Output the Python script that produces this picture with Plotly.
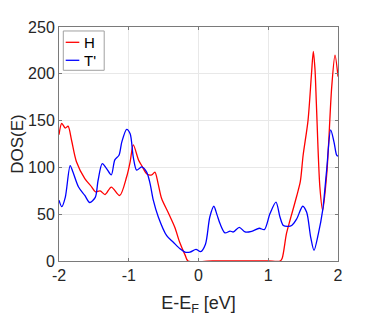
import plotly.graph_objects as go

# ---- data ----
h_x = [-2.00, -1.96, -1.91, -1.87, -1.82, -1.75, -1.63, -1.53, -1.48, -1.41, -1.34, -1.25,
       -1.13, -1.03, -0.98, -0.935, -0.86, -0.815, -0.74, -0.67, -0.625, -0.58, -0.53, -0.43,
       -0.34, -0.27, -0.19, -0.15, 0.2, 0.6, 1.0, 1.17, 1.20, 1.26, 1.31, 1.34, 1.41, 1.46,
       1.50, 1.57, 1.62, 1.646, 1.67, 1.69, 1.74, 1.78, 1.84, 1.91, 1.957, 2.00]
h_y = [135, 147, 142, 144, 129, 106, 88, 79, 74, 75, 71, 79,
       70, 90, 106, 124, 108, 102, 93, 92, 95, 83, 67, 51,
       36, 20, 6, 0, 0, 0, 0, 0, 3, 29, 43, 51, 70, 85,
       113, 150, 200, 224, 205, 168, 79, 54, 94, 186, 220, 197]

t_x = [-2.00, -1.96, -1.91, -1.84, -1.80, -1.72, -1.63, -1.56, -1.48, -1.44, -1.38, -1.32,
       -1.25, -1.20, -1.14, -1.10, -1.03, -0.98, -0.935, -0.886, -0.815, -0.743, -0.695, -0.648,
       -0.576, -0.456, -0.361, -0.265, -0.194, -0.122, -0.036, 0.03, 0.10, 0.162, 0.22, 0.267,
       0.308, 0.38, 0.452, 0.50, 0.585, 0.667, 0.763, 0.872, 0.944, 1.025, 1.111, 1.168, 1.216,
       1.287, 1.336, 1.408, 1.494, 1.551, 1.608, 1.656, 1.718, 1.78, 1.837, 1.895, 1.943, 1.981, 2.00]
t_y = [65, 58, 68, 102, 95, 79, 70, 62.5, 68, 86, 104, 99,
       92, 108, 113, 127, 140.7, 136, 111, 97, 100.6, 95, 83, 65,
       47, 27, 20, 13, 9.5, 9.5, 12.4, 10, 18, 47, 58.5, 49,
       40, 30, 32, 31, 36, 31, 31.7, 35, 33.5, 50.7, 63, 47, 38,
       37, 38, 45, 58.5, 52, 25.6, 11.4, 29, 54, 97, 140, 127, 113, 112]

series_names = ["H", "T'"]
x_ticks = [-2, -1, 0, 1, 2]
y_ticks = [0, 50, 100, 150, 200, 250]

FONT = "Liberation Sans, Arial, Helvetica, sans-serif"
TXT = "#262626"
AX = "#7a7a7a"

fig = go.Figure()
fig.add_trace(go.Scatter(x=h_x, y=h_y, mode="lines", name=series_names[0],
                         line=dict(color="#ff0000", width=1.3, shape="spline", smoothing=0.8),
                         showlegend=False))
fig.add_trace(go.Scatter(x=t_x, y=t_y, mode="lines", name=series_names[1],
                         line=dict(color="#0000ff", width=1.3, shape="spline", smoothing=0.8),
                         showlegend=False))

axis_common = dict(showline=True, linecolor=AX, linewidth=1, mirror="ticks",
                   ticks="inside", ticklen=3, tickcolor=AX, tickwidth=1,
                   showgrid=True, gridcolor="#e8e8e8", gridwidth=1, zeroline=False,
                   automargin=False,
                   tickfont=dict(family=FONT, size=16, color=TXT))

fig.update_xaxes(range=[-2, 2], tickvals=x_ticks, ticktext=[str(v) for v in x_ticks],
                 title=dict(text="E-E<sub>F</sub> [eV]", font=dict(family=FONT, size=18, color=TXT),
                            standoff=13),
                 **axis_common)
fig.update_yaxes(range=[0, 250], tickvals=y_ticks, ticktext=[str(v) for v in y_ticks],
                 title=dict(text="DOS(E)", font=dict(family=FONT, size=17, color=TXT), standoff=10),
                 **axis_common)

# legend box (drawn in paper coordinates, as in the reference)
shapes = [
    dict(type="rect", xref="paper", yref="paper", x0=0.0154, x1=0.162, y0=0.815, y1=0.983,
         line=dict(color="#a0a0a0", width=1), fillcolor="white", layer="above"),
    dict(type="line", xref="paper", yref="paper", x0=0.024, x1=0.0728, y0=0.9346, y1=0.9346,
         line=dict(color="#ff0000", width=1.3), layer="above"),
    dict(type="line", xref="paper", yref="paper", x0=0.024, x1=0.0728, y0=0.8577, y1=0.8577,
         line=dict(color="#0000ff", width=1.3), layer="above"),
]
annotations = [
    dict(xref="paper", yref="paper", x=0.083, y=0.9346, text=series_names[0], showarrow=False,
         xanchor="left", yanchor="middle", font=dict(family=FONT, size=15, color="#000000")),
    dict(xref="paper", yref="paper", x=0.083, y=0.8577, text=series_names[1], showarrow=False,
         xanchor="left", yanchor="middle", font=dict(family=FONT, size=15, color="#000000")),
]

# the page body adds an 8px offset, so the figure is 8px smaller and margins shifted
fig.update_layout(width=366, height=310, margin=dict(l=51, r=36, t=19, b=57),
                  paper_bgcolor="white", plot_bgcolor="white",
                  shapes=shapes, annotations=annotations, showlegend=False)

fig.write_html("out.html")
